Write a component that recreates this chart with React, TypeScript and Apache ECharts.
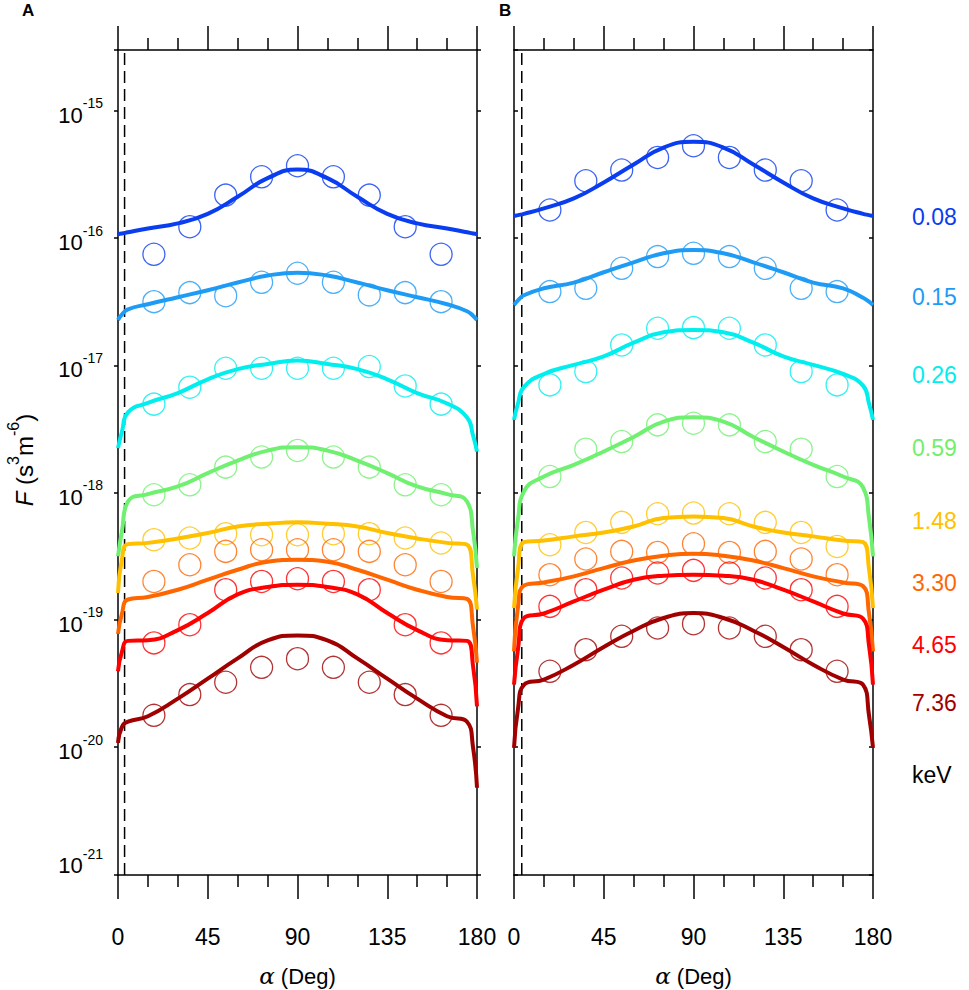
import React, { useEffect, useRef } from "react";
import * as echarts from "echarts";

const FONT = "'Liberation Sans', Arial, Helvetica, sans-serif";

const ENERGIES = ["0.08", "0.15", "0.26", "0.59", "1.48", "3.30", "4.65", "7.36"];
const COLORS = ["#0A3CF0", "#1E9BF5", "#00EEEE", "#70F070", "#FFC000", "#FF6600", "#FF0000", "#A00000"];
const UNIT_LABEL = "keV";
const PANELS = ["A", "B"];

// pitch angles (deg)
const PITCH_OBS = [18, 36, 54, 72, 90, 108, 126, 144, 162];
const PITCH_FIT = [0, 2, 5, 15, 30, 45, 60, 75, 90, 105, 120, 135, 150, 165, 175, 178, 180];
const LOSS_CONE_A = 3.3;
const LOSS_CONE_B = 3.9;

// axis range (slightly below 1e-21 so that the 1e-21 tick keeps its label)
const Y_MIN = 9.9e-22;
const Y_MAX = 3e-15;

// log10 of F (s^3 m^-6) — panel A, observed (circles)
const OBS_A_008 = [-16.128, -15.911, -15.663, -15.519, -15.432, -15.519, -15.663, -15.911, -16.128];
const OBS_A_015 = [-16.5, -16.429, -16.453, -16.348, -16.277, -16.348, -16.447, -16.429, -16.5];
const OBS_A_026 = [-17.305, -17.172, -17.023, -17.023, -17.023, -17.023, -17.01, -17.162, -17.305];
const OBS_A_059 = [-18.017, -17.939, -17.8, -17.721, -17.669, -17.721, -17.8, -17.939, -18.017];
const OBS_A_148 = [-18.37, -18.357, -18.323, -18.331, -18.331, -18.323, -18.323, -18.357, -18.396];
const OBS_A_330 = [-18.698, -18.567, -18.462, -18.449, -18.449, -18.449, -18.462, -18.567, -18.698];
const OBS_A_465 = [-19.181, -19.038, -18.763, -18.698, -18.677, -18.698, -18.763, -19.038, -19.181];
const OBS_A_736 = [-19.75, -19.587, -19.49, -19.373, -19.305, -19.373, -19.49, -19.587, -19.75];

// panel A, model (lines)
const FIT_A_008 = [-15.97, -15.965, -15.955, -15.925, -15.885, -15.81, -15.676, -15.53, -15.462, -15.53, -15.676, -15.81, -15.885, -15.925, -15.955, -15.965, -15.97];
const FIT_A_015 = [-16.644, -16.6, -16.56, -16.52, -16.465, -16.41, -16.35, -16.295, -16.272, -16.295, -16.35, -16.41, -16.465, -16.52, -16.575, -16.61, -16.644];
const FIT_A_026 = [-17.651, -17.52, -17.37, -17.295, -17.218, -17.11, -17.03, -16.99, -16.963, -16.99, -17.03, -17.11, -17.218, -17.3, -17.41, -17.55, -17.678];
const FIT_A_059 = [-18.501, -18.3, -18.07, -18.012, -17.952, -17.847, -17.748, -17.67, -17.643, -17.67, -17.748, -17.847, -17.952, -18.012, -18.07, -18.3, -18.593];
const FIT_A_148 = [-18.789, -18.52, -18.405, -18.395, -18.36, -18.318, -18.266, -18.245, -18.234, -18.245, -18.266, -18.318, -18.36, -18.395, -18.41, -18.65, -18.92];
const FIT_A_330 = [-19.11, -18.95, -18.84, -18.82, -18.763, -18.684, -18.606, -18.543, -18.527, -18.543, -18.606, -18.684, -18.763, -18.82, -18.835, -19.05, -19.336];
const FIT_A_465 = [-19.404, -19.25, -19.165, -19.16, -19.08, -18.946, -18.8, -18.742, -18.724, -18.742, -18.8, -18.946, -19.08, -19.16, -19.165, -19.36, -19.679];
const FIT_A_736 = [-19.966, -19.84, -19.8, -19.757, -19.619, -19.462, -19.302, -19.161, -19.122, -19.161, -19.302, -19.462, -19.619, -19.757, -19.8, -20.0, -20.319];

// panel B, observed (circles)
const OBS_B_008 = [-15.78, -15.55, -15.466, -15.367, -15.275, -15.367, -15.466, -15.55, -15.78];
const OBS_B_015 = [-16.421, -16.395, -16.238, -16.146, -16.12, -16.146, -16.238, -16.395, -16.421];
const OBS_B_026 = [-17.154, -17.049, -16.84, -16.709, -16.704, -16.709, -16.84, -17.049, -17.154];
const OBS_B_059 = [-17.874, -17.659, -17.599, -17.468, -17.455, -17.468, -17.599, -17.659, -17.874];
const OBS_B_148 = [-18.41, -18.313, -18.234, -18.166, -18.161, -18.166, -18.234, -18.313, -18.423];
const OBS_B_330 = [-18.645, -18.522, -18.462, -18.47, -18.402, -18.47, -18.462, -18.522, -18.645];
const OBS_B_465 = [-18.894, -18.763, -18.671, -18.632, -18.611, -18.632, -18.671, -18.763, -18.894];
const OBS_B_736 = [-19.404, -19.234, -19.129, -19.064, -19.03, -19.064, -19.129, -19.234, -19.404];

// panel B, model (lines)
const FIT_B_008 = [-15.827, -15.82, -15.81, -15.767, -15.689, -15.563, -15.422, -15.289, -15.244, -15.289, -15.422, -15.563, -15.689, -15.767, -15.81, -15.82, -15.827];
const FIT_B_015 = [-16.526, -16.49, -16.45, -16.395, -16.35, -16.269, -16.191, -16.12, -16.094, -16.12, -16.191, -16.269, -16.35, -16.395, -16.47, -16.5, -16.526];
const FIT_B_026 = [-17.429, -17.3, -17.17, -17.068, -16.997, -16.93, -16.822, -16.741, -16.722, -16.741, -16.822, -16.93, -16.997, -17.068, -17.16, -17.3, -17.429];
const FIT_B_059 = [-18.501, -18.21, -17.99, -17.874, -17.782, -17.677, -17.563, -17.442, -17.408, -17.442, -17.563, -17.677, -17.782, -17.874, -17.96, -18.2, -18.501];
const FIT_B_148 = [-18.907, -18.6, -18.39, -18.377, -18.344, -18.313, -18.266, -18.2, -18.187, -18.2, -18.266, -18.313, -18.344, -18.377, -18.39, -18.6, -18.907];
const FIT_B_330 = [-19.247, -18.9, -18.73, -18.706, -18.658, -18.593, -18.534, -18.496, -18.48, -18.496, -18.534, -18.593, -18.658, -18.706, -18.735, -18.95, -19.247];
const FIT_B_465 = [-19.509, -19.23, -18.985, -18.95, -18.855, -18.763, -18.685, -18.653, -18.645, -18.653, -18.685, -18.763, -18.855, -18.95, -18.99, -19.2, -19.509];
const FIT_B_736 = [-20.006, -19.7, -19.51, -19.469, -19.352, -19.213, -19.085, -18.985, -18.946, -18.985, -19.085, -19.213, -19.352, -19.469, -19.51, -19.75, -20.006];

const OBS = [
  [OBS_A_008, OBS_A_015, OBS_A_026, OBS_A_059, OBS_A_148, OBS_A_330, OBS_A_465, OBS_A_736],
  [OBS_B_008, OBS_B_015, OBS_B_026, OBS_B_059, OBS_B_148, OBS_B_330, OBS_B_465, OBS_B_736],
];
const FIT = [
  [FIT_A_008, FIT_A_015, FIT_A_026, FIT_A_059, FIT_A_148, FIT_A_330, FIT_A_465, FIT_A_736],
  [FIT_B_008, FIT_B_015, FIT_B_026, FIT_B_059, FIT_B_148, FIT_B_330, FIT_B_465, FIT_B_736],
];
const LOSS_CONE = [LOSS_CONE_A, LOSS_CONE_B];

// layout (px, page coords)
const GRID_LEFT = [118, 514];
const GRID_TOP = 50;
const GRID_W = 359;
const GRID_H = 825;
const LETTER_LEFT = [22, 499];
const LEGEND_X = 912;
const LEGEND_Y = [217, 297, 375, 448, 521, 583, 645, 703];
const UNIT_Y = 775;

function xAxisCfg(gridIndex: number, position: "top" | "bottom") {
  return {
    type: "value",
    gridIndex,
    position,
    min: 0,
    max: 180,
    interval: 45,
    axisLine: { show: true, onZero: false, lineStyle: { color: "#000", width: 1.5 } },
    axisTick: { show: true, length: 24, lineStyle: { color: "#000", width: 1.5 } },
    minorTick: { show: true, splitNumber: 3, length: 12, lineStyle: { color: "#000", width: 1.5 } },
    splitLine: { show: false },
    minorSplitLine: { show: false },
    axisLabel: {
      show: position === "bottom",
      margin: 50,
      fontSize: 23,
      color: "#000",
      fontFamily: FONT,
    },
  };
}

function yAxisCfg(gridIndex: number, position: "left" | "right", labels: boolean, inside: boolean) {
  return {
    type: "log",
    logBase: 10,
    gridIndex,
    position,
    min: Y_MIN,
    max: Y_MAX,
    axisLine: { show: true, onZero: false, lineStyle: { color: "#000", width: 1.5 } },
    axisTick: { show: true, inside, length: 4, lineStyle: { color: "#000", width: 1.5 } },
    splitLine: { show: false },
    axisLabel: {
      show: labels,
      showMinLabel: true,
      showMaxLabel: true,
      margin: 15,
      color: "#000",
      fontFamily: FONT,
      formatter: (v: number) => {
        const lg = Math.log10(v);
        const e = Math.round(lg);
        if (Math.abs(lg - e) > 1e-6) return "";
        if (e === -21) return `{b2|10}{s2|${e}}`;
        return `{b|10}{s|${e}}`;
      },
      rich: {
        b: { fontSize: 22, fontFamily: FONT, color: "#000", padding: [9, 0, 0, 0] },
        s: { fontSize: 14, fontFamily: FONT, color: "#000", padding: [0, 0, 15, 0] },
        b2: { fontSize: 22, fontFamily: FONT, color: "#000", padding: [0, 0, 17, 0] },
        s2: { fontSize: 14, fontFamily: FONT, color: "#000", padding: [0, 0, 41, 0] },
      },
    },
  };
}

export default function App() {
  const ref = useRef<HTMLDivElement>(null);

  useEffect(() => {
    if (!ref.current) return;
    const chart = echarts.init(ref.current, undefined, { renderer: "svg" });

    const series: any[] = [];
    for (let p = 0; p < 2; p++) {
      const ax = p * 2;
      series.push({
        type: "line",
        name: `loss-cone-${PANELS[p]}`,
        xAxisIndex: ax,
        yAxisIndex: ax,
        data: [
          [LOSS_CONE[p], Y_MIN],
          [LOSS_CONE[p], Y_MAX],
        ],
        symbol: "none",
        lineStyle: { color: "#000", width: 1.5, type: [12, 6] },
        z: 1,
        silent: true,
      });
      for (let i = 0; i < ENERGIES.length; i++) {
        series.push({
          type: "scatter",
          name: `${PANELS[p]} ${ENERGIES[i]} obs`,
          xAxisIndex: ax,
          yAxisIndex: ax,
          data: PITCH_OBS.map((a, k) => [a, Math.pow(10, OBS[p][i][k])]),
          symbol: "circle",
          symbolSize: 22,
          itemStyle: { color: "rgba(0,0,0,0)", borderColor: COLORS[i], borderWidth: 1.3 },
          z: 2,
        });
        series.push({
          type: "line",
          name: `${PANELS[p]} ${ENERGIES[i]} fit`,
          xAxisIndex: ax,
          yAxisIndex: ax,
          data: PITCH_FIT.map((a, k) => [a, Math.pow(10, FIT[p][i][k])]),
          smooth: 0.5,
          symbol: "none",
          showSymbol: false,
          lineStyle: { color: COLORS[i], width: 4 },
          z: 3,
        });
      }
    }

    const graphic: any[] = [
      {
        type: "text",
        x: 24,
        y: 460,
        rotation: Math.PI / 2,
        style: {
          text: "{i|F}{n| (s}{s|3}{n|m}{s|-6}{n|)}",
          align: "center",
          verticalAlign: "middle",
          fill: "#000",
          fontFamily: FONT,
          fontSize: 24,
          rich: {
            i: { fontSize: 24, fontFamily: FONT, fontStyle: "italic", fill: "#000" },
            n: { fontSize: 24, fontFamily: FONT, fill: "#000" },
            s: { fontSize: 16, fontFamily: FONT, fill: "#000", padding: [0, 0, 22, 0] },
          },
        },
      },
    ];
    for (let p = 0; p < 2; p++) {
      graphic.push({
        type: "text",
        x: GRID_LEFT[p] + GRID_W / 2,
        y: 976,
        style: {
          text: "{a|α}{n| (Deg)}",
          align: "center",
          verticalAlign: "middle",
          fill: "#000",
          fontFamily: FONT,
          fontSize: 22,
          rich: {
            a: { fontSize: 23, fontFamily: "'DejaVu Serif', 'Liberation Serif', serif", fontStyle: "italic", fill: "#000" },
            n: { fontSize: 22, fontFamily: FONT, fill: "#000" },
          },
        },
      });
    }
    for (let i = 0; i < ENERGIES.length; i++) {
      graphic.push({
        type: "text",
        x: LEGEND_X,
        y: LEGEND_Y[i],
        style: { text: ENERGIES[i], fontSize: 23, fontFamily: FONT, fill: COLORS[i], align: "left", verticalAlign: "middle" },
      });
    }
    graphic.push({
      type: "text",
      x: LEGEND_X,
      y: UNIT_Y,
      style: { text: UNIT_LABEL, fontSize: 23, fontFamily: FONT, fill: "#000", align: "left", verticalAlign: "middle" },
    });

    chart.setOption({
      animation: false,
      backgroundColor: "#fff",
      textStyle: { fontFamily: FONT },
      title: PANELS.map((t, p) => ({
        text: t,
        left: LETTER_LEFT[p],
        top: 0,
        padding: 0,
        textStyle: { fontSize: 17, fontWeight: "bold", fontFamily: FONT, color: "#000", lineHeight: 21 },
      })),
      grid: [
        { left: GRID_LEFT[0], top: GRID_TOP, width: GRID_W, height: GRID_H, containLabel: false, outerBoundsMode: "none" },
        { left: GRID_LEFT[1], top: GRID_TOP, width: GRID_W, height: GRID_H, containLabel: false, outerBoundsMode: "none" },
      ],
      xAxis: [xAxisCfg(0, "bottom"), xAxisCfg(0, "top"), xAxisCfg(1, "bottom"), xAxisCfg(1, "top")],
      yAxis: [
        yAxisCfg(0, "left", true, false),
        yAxisCfg(0, "right", false, false),
        yAxisCfg(1, "left", false, true),
        yAxisCfg(1, "right", false, true),
      ],
      series,
      graphic,
    });

    return () => chart.dispose();
  }, []);

  return (
    <div
      ref={ref}
      style={{ position: "fixed", left: 0, top: 0, width: 969, height: 990, background: "#fff" }}
    />
  );
}
